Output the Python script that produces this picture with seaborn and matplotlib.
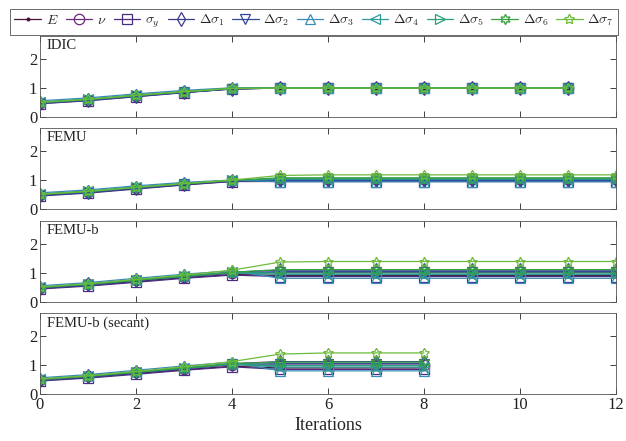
import seaborn as sns
import matplotlib.pyplot as plt
import numpy as np

sns.set_style('ticks')
plt.rcParams['font.family'] = ['Liberation Serif', 'DejaVu Serif']
plt.rcParams['mathtext.fontset'] = 'cm'

names = [r'$E$', r'$\nu$', r'$\sigma_y$', r'$\Delta\sigma_1$', r'$\Delta\sigma_2$',
         r'$\Delta\sigma_3$', r'$\Delta\sigma_4$', r'$\Delta\sigma_5$', r'$\Delta\sigma_6$',
         r'$\Delta\sigma_7$']
colors = ['#4a1038', '#6a2a7a', '#4b2d80', '#3a3a8c', '#33489a',
          '#3a8cb8', '#2e9a9a', '#2aa07a', '#35a040', '#6cbb3a']
markers = ['.', 'o', 's', 'd', 'v', '^', '<', '>', (6, 1, 0), (5, 1, 0)]
panels = ['IDIC', 'FEMU', 'FEMU-b', 'FEMU-b (secant)']

# IDIC, iterations 0..11
idic = [
    [0.48, 0.58, 0.72, 0.85, 0.97, 1.00, 1.00, 1.00, 1.00, 1.00, 1.00, 1.00],  # E
    [0.50, 0.60, 0.74, 0.87, 0.98, 1.00, 1.00, 1.00, 1.00, 1.00, 1.00, 1.00],  # nu
    [0.46, 0.56, 0.70, 0.84, 0.97, 1.00, 1.00, 1.00, 1.00, 1.00, 1.00, 1.00],  # sigma_y
    [0.49, 0.59, 0.73, 0.86, 0.98, 1.00, 1.00, 1.00, 1.00, 1.00, 1.00, 1.00],  # ds1
    [0.47, 0.57, 0.71, 0.85, 0.97, 1.00, 1.00, 1.00, 1.00, 1.00, 1.00, 1.00],  # ds2
    [0.56, 0.66, 0.80, 0.92, 1.01, 1.00, 1.00, 1.00, 1.00, 1.00, 1.00, 1.00],  # ds3
    [0.52, 0.62, 0.76, 0.88, 0.99, 1.00, 1.00, 1.00, 1.00, 1.00, 1.00, 1.00],  # ds4
    [0.51, 0.61, 0.75, 0.87, 0.98, 1.00, 1.00, 1.00, 1.00, 1.00, 1.00, 1.00],  # ds5
    [0.50, 0.60, 0.74, 0.87, 0.99, 1.00, 1.00, 1.00, 1.00, 1.00, 1.00, 1.00],  # ds6
    [0.51, 0.61, 0.75, 0.88, 0.99, 1.00, 1.00, 1.00, 1.00, 1.00, 1.00, 1.00],  # ds7
]

# FEMU, iterations 0..12
femu = [
    [0.47, 0.57, 0.71, 0.84, 0.96, 0.97, 0.97, 0.97, 0.97, 0.97, 0.97, 0.97, 0.97],
    [0.50, 0.60, 0.74, 0.87, 0.98, 1.02, 1.02, 1.02, 1.02, 1.02, 1.02, 1.02, 1.02],
    [0.45, 0.55, 0.69, 0.83, 0.95, 0.95, 0.95, 0.95, 0.95, 0.95, 0.95, 0.95, 0.95],
    [0.49, 0.59, 0.73, 0.86, 0.98, 1.00, 1.00, 1.00, 1.00, 1.00, 1.00, 1.00, 1.00],
    [0.47, 0.57, 0.71, 0.85, 0.97, 0.98, 0.98, 0.98, 0.98, 0.98, 0.98, 0.98, 0.98],
    [0.56, 0.66, 0.80, 0.92, 1.00, 0.94, 0.94, 0.94, 0.94, 0.94, 0.94, 0.94, 0.94],
    [0.52, 0.62, 0.76, 0.88, 0.99, 1.03, 1.03, 1.03, 1.03, 1.03, 1.03, 1.03, 1.03],
    [0.51, 0.61, 0.75, 0.88, 0.99, 1.05, 1.05, 1.05, 1.05, 1.05, 1.05, 1.05, 1.05],
    [0.50, 0.60, 0.74, 0.87, 0.99, 1.08, 1.08, 1.08, 1.08, 1.08, 1.08, 1.08, 1.08],
    [0.51, 0.61, 0.75, 0.88, 1.00, 1.16, 1.18, 1.18, 1.18, 1.18, 1.18, 1.18, 1.18],
]

# FEMU-b, iterations 0..12
femu_b = [
    [0.47, 0.57, 0.71, 0.84, 0.95, 0.92, 0.92, 0.92, 0.92, 0.92, 0.92, 0.92, 0.92],
    [0.50, 0.61, 0.75, 0.88, 1.00, 1.02, 1.02, 1.02, 1.02, 1.02, 1.02, 1.02, 1.02],
    [0.45, 0.55, 0.68, 0.82, 0.93, 0.88, 0.88, 0.88, 0.88, 0.88, 0.88, 0.88, 0.88],
    [0.50, 0.61, 0.75, 0.89, 1.03, 1.10, 1.10, 1.10, 1.10, 1.10, 1.10, 1.10, 1.10],
    [0.48, 0.58, 0.73, 0.87, 1.00, 1.05, 1.05, 1.05, 1.05, 1.05, 1.05, 1.05, 1.05],
    [0.56, 0.67, 0.82, 0.96, 1.08, 0.82, 0.82, 0.82, 0.82, 0.82, 0.82, 0.82, 0.82],
    [0.52, 0.63, 0.77, 0.90, 1.02, 0.95, 0.95, 0.95, 0.95, 0.95, 0.95, 0.95, 0.95],
    [0.51, 0.62, 0.76, 0.89, 1.02, 1.00, 1.00, 1.00, 1.00, 1.00, 1.00, 1.00, 1.00],
    [0.50, 0.61, 0.75, 0.89, 1.03, 1.12, 1.12, 1.12, 1.12, 1.12, 1.12, 1.12, 1.12],
    [0.52, 0.63, 0.78, 0.93, 1.10, 1.38, 1.40, 1.40, 1.40, 1.40, 1.40, 1.40, 1.40],
]

# FEMU-b (secant), iterations 0..8
femu_bs = [
    [0.47, 0.57, 0.71, 0.84, 0.96, 0.90, 0.90, 0.90, 0.90],
    [0.50, 0.61, 0.75, 0.88, 1.01, 1.00, 1.00, 1.00, 1.00],
    [0.45, 0.55, 0.68, 0.82, 0.94, 0.85, 0.85, 0.85, 0.85],
    [0.50, 0.61, 0.75, 0.90, 1.05, 1.12, 1.12, 1.12, 1.12],
    [0.48, 0.58, 0.73, 0.87, 1.02, 1.05, 1.05, 1.05, 1.05],
    [0.56, 0.67, 0.82, 0.97, 1.10, 0.80, 0.80, 0.80, 0.80],
    [0.52, 0.63, 0.77, 0.90, 1.03, 0.93, 0.93, 0.93, 0.93],
    [0.51, 0.62, 0.76, 0.89, 1.03, 0.98, 0.98, 0.98, 0.98],
    [0.50, 0.61, 0.75, 0.90, 1.05, 1.10, 1.10, 1.10, 1.10],
    [0.52, 0.63, 0.78, 0.94, 1.12, 1.38, 1.42, 1.42, 1.42],
]

data = [idic, femu, femu_b, femu_bs]

fig = plt.figure(figsize=(6.26, 4.41), dpi=100)
H = 441.0
W = 626.0
boxes = [(36, 117), (128, 209), (221, 302), (313, 394)]
axes = []
for (top, bot) in boxes:
    ax = fig.add_axes([40 / W, 1 - bot / H, 576 / W, (bot - top) / H])
    axes.append(ax)

for ax, title, series in zip(axes, panels, data):
    for vals, name, c, m in zip(series, names, colors, markers):
        it = np.arange(len(vals))
        ms = 4 if m == '.' else 7.5
        sns.lineplot(x=it, y=vals, ax=ax, color=c, marker=m, markersize=ms,
                     markerfacecolor='none' if m != '.' else c,
                     markeredgecolor=c, markeredgewidth=0.9, linewidth=0.9,
                     label=name, legend=False)
    ax.set_xlim(0, 12)
    ax.set_ylim(0, 2.8)
    ax.set_yticks([0, 1, 2])
    ax.set_xticks(np.arange(0, 13, 2))
    ax.tick_params(direction='in', top=True, right=True, length=4, width=0.6,
                   labelsize=12, pad=2, colors='#222222')
    for s in ax.spines.values():
        s.set_linewidth(0.6)
        s.set_color('#555555')
    ax.text(0.012, 0.96, title, transform=ax.transAxes, va='top', ha='left',
            fontsize=10.5, color='#222222')
    if ax is not axes[-1]:
        ax.set_xticklabels([])

axes[-1].set_xlabel('Iterations', fontsize=13, labelpad=3)

handles, labels = axes[0].get_legend_handles_labels()
leg = fig.legend(handles, labels, loc='upper center', ncol=10,
                 bbox_to_anchor=(314 / W, 1 - 2 / H), fontsize=10,
                 handlelength=1.9, handletextpad=0.35, columnspacing=0.55,
                 borderpad=0.3, frameon=True, fancybox=False, edgecolor='#444444')
leg.get_frame().set_linewidth(0.7)

fig.savefig('out.png', dpi=100)
